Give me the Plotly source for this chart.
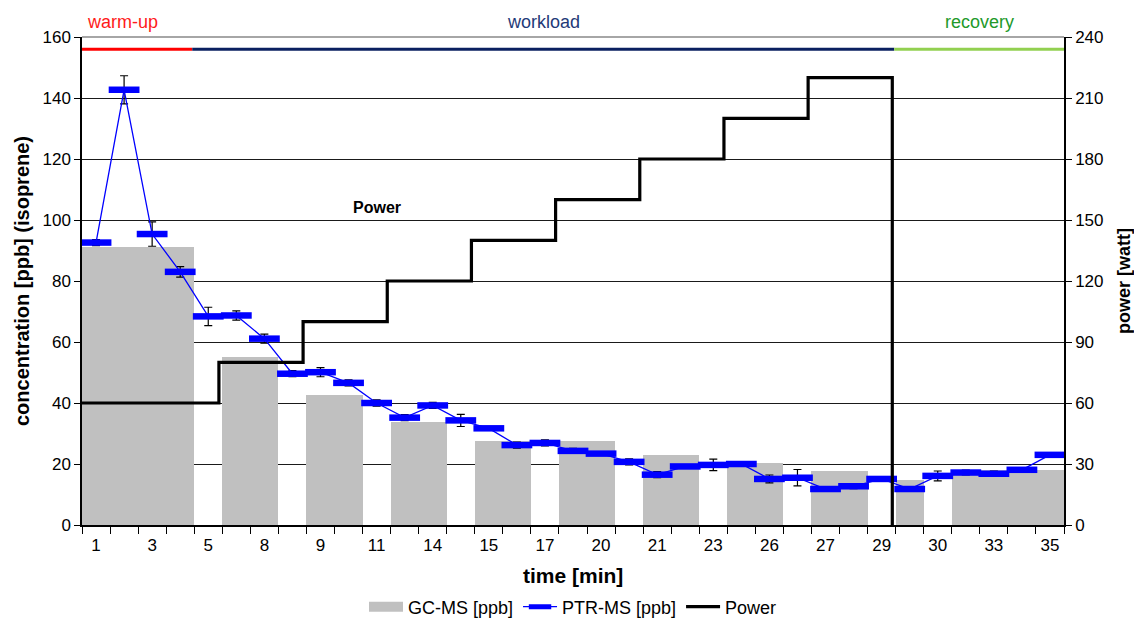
import plotly.graph_objects as go

# ---------------- data ----------------
positions = list(range(1, 36))  # category index along the time axis
tick_positions = list(range(1, 36, 2))
tick_labels = ["1", "3", "5", "8", "9", "11", "14", "15", "17", "20",
               "21", "23", "26", "27", "29", "30", "33", "35"]

gcms = [91, 91, 91, 91, None, 55, 55, None, 42.7, 42.7, None, 33.9, 33.9, None,
        27.5, 27.5, None, 27.5, 27.5, None, 22.9, 22.9, None, 20.4, 20.4, None,
        17.7, 17.7, None, 14.8, None, 18, 18, 18, 18]

ptrms = [92.6, 142.7, 95.4, 83.0, 68.4, 68.7, 61.1, 49.6, 50.1, 46.6,
         40.0, 35.2, 39.2, 34.3, 31.7, 26.2, 26.9, 24.3, 23.4, 20.7,
         16.5, 19.2, 19.7, 20.0, 15.1, 15.5, 11.8, 12.7, 15.1, 11.8,
         16.1, 17.2, 16.8, 18.1, 23.0]
ptrms_err = [1.0, 4.6, 4.0, 1.7, 3.0, 1.5, 1.5, 1.0, 1.5, 1.0,
             1.0, 1.0, 1.0, 2.0, 0.5, 1.0, 1.0, 0.8, 0.3, 1.0,
             1.0, 0.3, 1.9, 0.8, 1.3, 2.7, 0.5, 0.8, 0.5, 0.6,
             1.6, 0.8, 0.9, 0.5, 0.3]

power_start = [0.5, 5.38, 8.38, 11.38, 14.38, 17.38, 20.38, 23.38, 26.38, 29.38]
power_watt = [60, 80, 100, 120, 140, 160, 180, 200, 220, 0]

phase_names = ["warm-up", "workload", "recovery"]
phase_bounds = [0.5, 4.43, 29.45, 35.5]
phase_line_colors = ["#ff0000", "#0a2060", "#92d050"]
phase_text_colors = ["#ff1a1a", "#1f3a78", "#22992a"]
phase_level = 156

FONT = "Liberation Sans, Arial, Helvetica, sans-serif"
BAR_COLOR = "#c0c0c0"

fig = go.Figure()

fig.add_trace(go.Bar(
    x=positions, y=gcms, name="GC-MS [ppb]", width=1.0, showlegend=False,
    marker=dict(color=BAR_COLOR, line=dict(width=0)),
    yaxis="y"))
# legend-only entry giving the bar series a wide rectangular swatch
fig.add_trace(go.Scatter(
    x=[None], y=[None], name="GC-MS [ppb]", mode="lines", legendrank=1,
    line=dict(color=BAR_COLOR, width=10), hoverinfo="skip"))

fig.add_trace(go.Scatter(
    x=power_start, y=power_watt, name="Power", mode="lines", legendrank=3,
    line=dict(color="black", width=3.2, shape="hv"), yaxis="y2"))

fig.add_trace(go.Scatter(
    x=positions, y=ptrms, name="PTR-MS [ppb]", mode="lines+markers", legendrank=2,
    line=dict(color="#0000ff", width=1.3),
    marker=dict(symbol="line-ew", size=22, color="#0000ff",
                line=dict(width=6.5, color="#0000ff")),
    error_y=dict(type="data", array=ptrms_err, color="black",
                 thickness=1.2, width=4),
    yaxis="y"))

for i, nm in enumerate(phase_names):
    fig.add_trace(go.Scatter(
        x=[phase_bounds[i], phase_bounds[i + 1]], y=[phase_level, phase_level],
        mode="lines", line=dict(color=phase_line_colors[i], width=3),
        showlegend=False, hoverinfo="skip", yaxis="y"))
    if i == 0:
        fig.add_annotation(x=phase_bounds[i], y=1.031, xref="x", yref="paper",
                           text=nm, showarrow=False, xanchor="left", xshift=3,
                           yanchor="middle",
                           font=dict(family=FONT, size=18, color=phase_text_colors[i]))
    else:
        fig.add_annotation(x=(phase_bounds[i] + phase_bounds[i + 1]) / 2, y=1.031,
                           xref="x", yref="paper", text=nm, showarrow=False,
                           xanchor="center", yanchor="middle",
                           font=dict(family=FONT, size=18, color=phase_text_colors[i]))

fig.add_annotation(x=11, y=104, xref="x", yref="y", text="<b>Power</b>",
                   showarrow=False, font=dict(family=FONT, size=16, color="black"))

# axis titles
fig.add_annotation(x=-0.0611, y=0.5, xref="paper", yref="paper",
                   text="<b>concentration [ppb] (isoprene)</b>", textangle=-90,
                   showarrow=False, xanchor="center", yanchor="middle",
                   font=dict(family=FONT, size=20, color="black"))
fig.add_annotation(x=1.0611, y=0.5, xref="paper", yref="paper",
                   text="<b>power [watt]</b>", textangle=-90,
                   showarrow=False, xanchor="center", yanchor="middle",
                   font=dict(family=FONT, size=18, color="black"))
fig.add_annotation(x=0.5, y=-0.1025, xref="paper", yref="paper",
                   text="<b>time [min]</b>",
                   showarrow=False, xanchor="center", yanchor="middle",
                   font=dict(family=FONT, size=21, color="black"))

# gray top border of the plot area
fig.add_shape(type="line", xref="paper", yref="paper", x0=0, x1=1, y0=1, y1=1,
              line=dict(color="#888888", width=1.5), layer="above")

# the page body has an 8px margin, so the figure is 8px smaller on each side
fig.update_layout(
    width=1134, height=610,
    margin=dict(l=74, r=78, t=29, b=93, autoexpand=False),
    paper_bgcolor="white", plot_bgcolor="white",
    font=dict(family=FONT, size=16, color="black"),
    bargap=0,
    showlegend=True,
    legend=dict(orientation="h", x=0.5, xanchor="center",
                yref="container", y=0.018, yanchor="middle",
                font=dict(family=FONT, size=18), traceorder="normal",
                itemwidth=34, tracegroupgap=0),
    xaxis=dict(
        range=[0.5, 35.5], tickmode="array", tickvals=tick_positions,
        ticktext=tick_labels, ticks="outside", ticklen=4, automargin=False,
        tickcolor="rgba(0,0,0,0)", showgrid=False, zeroline=False,
        showline=True, linecolor="black", linewidth=1.5,
        tickfont=dict(family=FONT, size=17),
        minor=dict(tickmode="linear", tick0=0.5, dtick=1, ticks="outside",
                   ticklen=7, tickcolor="black", tickwidth=1, showgrid=False)),
    yaxis=dict(
        range=[0, 160], dtick=20, ticks="outside", ticklen=6, tickcolor="black",
        showgrid=True, gridcolor="#1a1a1a", gridwidth=1, zeroline=False,
        showline=True, linecolor="black", linewidth=1.5, automargin=False,
        tickfont=dict(family=FONT, size=17)),
    yaxis2=dict(
        range=[0, 240], dtick=30, overlaying="y", side="right",
        ticks="outside", ticklen=6, tickcolor="black", showgrid=False,
        zeroline=False, showline=True, linecolor="black", linewidth=1.5,
        automargin=False, tickfont=dict(family=FONT, size=17)),
)

# hide scrollbars so the page does not lose width to them
fig.write_html(
    "out.html",
    post_script="document.documentElement.style.overflow='hidden';"
                "document.body.style.overflow='hidden';")
